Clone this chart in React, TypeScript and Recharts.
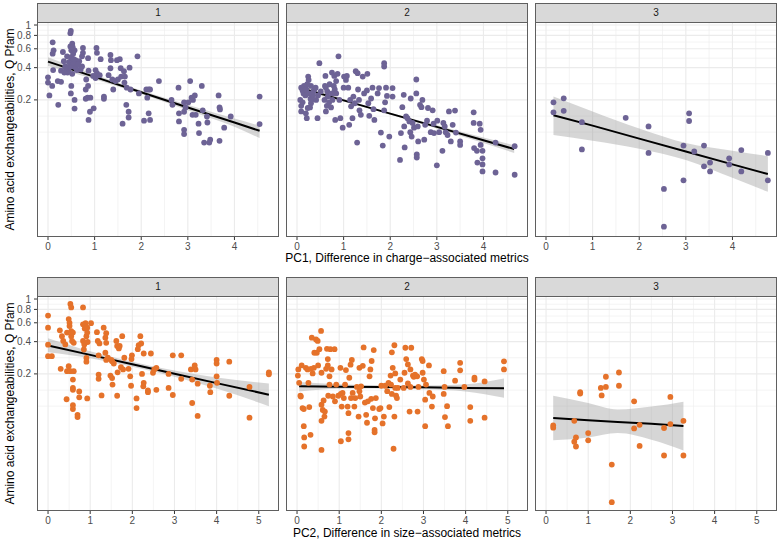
import React from 'react';
import { ComposedChart, Scatter, Line, Area, XAxis, YAxis, CartesianGrid } from 'recharts';

type Pt = [number, number];
// fit rows: [x, lower, fit, upper]
type FitRow = [number, number, number, number];

const clusters = ['1', '2', '3'];
const yMajor = [0.2, 0.4, 0.6, 0.8, 1];
const yMinor = [0.1, 0.141, 0.283, 0.49, 0.693, 0.894];
const yDomain = [0.0105, 1.067];

const pc1Major = [0, 1, 2, 3, 4];
const pc1Minor = [0.5, 1.5, 2.5, 3.5, 4.5];
const pc1Domain = [-0.236, 4.956];
const pc2Major = [0, 1, 2, 3, 4, 5];
const pc2Minor = [0.5, 1.5, 2.5, 3.5, 4.5];
const pc2Domain = [-0.262, 5.48];

const pc1Title = 'PC1, Difference in charge\u2212associated metrics';
const pc2Title = 'PC2, Difference in size\u2212associated metrics';
const yTitle = 'Amino acid exchangeabilities, Q Pfam';

// PC1 row (purple)
const pc1Cl1: Pt[] = [
  [0, 0.325], [0, 0.29], [0.03, 0.22], [0.09, 0.27], [0.11, 0.38], [0.1, 0.54], [0.12, 0.58], [0.1, 0.69],
  [0.22, 0.18], [0.21, 0.3], [0.28, 0.295], [0.32, 0.56], [0.34, 0.46], [0.28, 0.375], [0.37, 0.41], [0.41, 0.51],
  [0.44, 0.38], [0.48, 0.84], [0.49, 0.88], [0.48, 0.63], [0.5, 0.58], [0.52, 0.67], [0.54, 0.54], [0.49, 0.46],
  [0.48, 0.41], [0.52, 0.35], [0.55, 0.41], [0.59, 0.47], [0.57, 0.58], [0.5, 0.27], [0.49, 0.23], [0.57, 0.2],
  [0.57, 0.166], [0.62, 0.38], [0.67, 0.46], [0.73, 0.41], [0.73, 0.51], [0.75, 0.61], [0.75, 0.55], [0.7, 0.385],
  [0.86, 0.49], [0.87, 0.375], [0.82, 0.31], [0.81, 0.25], [0.86, 0.27], [0.85, 0.21], [0.81, 0.205], [0.91, 0.21],
  [0.9, 0.155], [0.87, 0.13], [0.98, 0.167], [1.02, 0.32], [1.02, 0.38], [1.05, 0.355], [1.04, 0.61], [1.05, 0.55],
  [1.13, 0.48], [1.11, 0.34], [0.97, 0.335], [1.2, 0.215], [1.2, 0.205], [1.34, 0.525], [1.35, 0.47], [1.34, 0.395],
  [1.3, 0.34], [1.38, 0.31], [1.4, 0.25], [1.45, 0.3], [1.48, 0.47], [1.54, 0.48], [1.5, 0.31], [1.56, 0.395],
  [1.57, 0.33], [1.63, 0.37], [1.65, 0.33], [1.64, 0.29], [1.6, 0.12], [1.68, 0.18], [1.73, 0.155], [1.73, 0.137],
  [1.69, 0.26], [1.75, 0.4], [1.77, 0.25], [1.92, 0.51], [1.95, 0.23], [2.06, 0.128], [2.11, 0.25], [2.13, 0.21],
  [2.16, 0.25], [2.19, 0.25], [2.16, 0.15], [2.19, 0.13], [2.38, 0.3], [2.65, 0.2], [2.67, 0.18], [2.8, 0.26],
  [2.81, 0.15], [2.81, 0.126], [2.92, 0.19], [2.92, 0.155], [2.92, 0.105], [2.92, 0.096], [2.95, 0.17], [3.01, 0.19],
  [3.05, 0.3], [3.08, 0.21], [3.11, 0.2], [3.15, 0.22], [3.1, 0.145], [3.17, 0.145], [3.23, 0.12], [3.24, 0.098],
  [3.3, 0.27], [3.32, 0.16], [3.35, 0.08], [3.41, 0.14], [3.42, 0.123], [3.46, 0.08], [3.48, 0.085], [3.66, 0.22],
  [3.68, 0.17], [3.69, 0.163], [3.68, 0.083], [3.78, 0.11], [3.92, 0.14], [4.54, 0.215], [4.54, 0.119],
  [0.45, 0.45], [0.5, 0.5], [0.55, 0.44], [0.6, 0.4], [0.42, 0.36], [0.38, 0.4], [0.53, 0.62], [0.55, 0.48],
  [0.65, 0.43], [0.35, 0.36],
];
const pc1Cl2: Pt[] = [
  [0.09, 0.26], [0.07, 0.2], [0.09, 0.176], [0.09, 0.156], [0.12, 0.245], [0.14, 0.23], [0.19, 0.15], [0.21, 0.135],
  [0.23, 0.168], [0.24, 0.33], [0.25, 0.307], [0.29, 0.205], [0.3, 0.186], [0.31, 0.2], [0.34, 0.22], [0.37, 0.25],
  [0.41, 0.2], [0.44, 0.135], [0.48, 0.44], [0.51, 0.24], [0.59, 0.2], [0.61, 0.335], [0.62, 0.26], [0.62, 0.156],
  [0.64, 0.176], [0.66, 0.215], [0.69, 0.19], [0.73, 0.17], [0.75, 0.36], [0.76, 0.2], [0.79, 0.27], [0.8, 0.335],
  [0.81, 0.25], [0.84, 0.23], [0.82, 0.13], [0.84, 0.3], [0.87, 0.35], [0.89, 0.51], [0.91, 0.2], [0.93, 0.135],
  [0.98, 0.11], [1.0, 0.26], [1.01, 0.33], [1.05, 0.307], [1.07, 0.335], [1.1, 0.26], [1.12, 0.117], [1.14, 0.2],
  [1.16, 0.174], [1.19, 0.135], [1.21, 0.215], [1.24, 0.186], [1.26, 0.37], [1.29, 0.08], [1.3, 0.355], [1.31, 0.25],
  [1.33, 0.2], [1.34, 0.16], [1.37, 0.145], [1.41, 0.33], [1.44, 0.23], [1.5, 0.245], [1.51, 0.35], [1.53, 0.186],
  [1.55, 0.142], [1.59, 0.206], [1.62, 0.26], [1.64, 0.164], [1.66, 0.13], [1.73, 0.23], [1.76, 0.258], [1.8, 0.099],
  [1.84, 0.075], [1.87, 0.44], [1.87, 0.41], [1.87, 0.16], [1.89, 0.19], [1.91, 0.26], [1.93, 0.218], [1.98, 0.091],
  [2.05, 0.258], [2.05, 0.215], [2.21, 0.055], [2.23, 0.098], [2.26, 0.171], [2.29, 0.223], [2.31, 0.072], [2.3, 0.113],
  [2.34, 0.14], [2.37, 0.135], [2.41, 0.126], [2.43, 0.1], [2.44, 0.206], [2.46, 0.091], [2.48, 0.122], [2.51, 0.11],
  [2.56, 0.31], [2.56, 0.23], [2.57, 0.062], [2.57, 0.058], [2.59, 0.113], [2.6, 0.082], [2.64, 0.18], [2.67, 0.171],
  [2.69, 0.2], [2.73, 0.085], [2.75, 0.117], [2.79, 0.128], [2.81, 0.168], [2.87, 0.1], [2.91, 0.16], [2.93, 0.12],
  [2.94, 0.098], [3.0, 0.049], [3.01, 0.128], [3.05, 0.1], [3.12, 0.067], [3.14, 0.122], [3.17, 0.113], [3.19, 0.1],
  [3.23, 0.094], [3.26, 0.156], [3.3, 0.082], [3.34, 0.117], [3.39, 0.159], [3.41, 0.099], [3.5, 0.082], [3.5, 0.076],
  [3.79, 0.153], [3.79, 0.122], [3.8, 0.071], [3.86, 0.067], [3.87, 0.052], [3.92, 0.12], [3.94, 0.105], [3.94, 0.076],
  [3.98, 0.067], [3.98, 0.057], [3.98, 0.05], [3.98, 0.043], [4.26, 0.042], [4.26, 0.08], [4.67, 0.074], [4.67, 0.04],
  [0.15, 0.27], [0.2, 0.25], [0.18, 0.22], [0.25, 0.23], [0.3, 0.27], [0.22, 0.28], [0.12, 0.19], [0.35, 0.24],
  [0.28, 0.17], [0.4, 0.26], [0.45, 0.22], [0.65, 0.24], [0.7, 0.28], [0.75, 0.23], [0.6, 0.27],
];
const pc1Cl3: Pt[] = [
  [0.16, 0.19], [0.16, 0.153], [0.38, 0.207], [0.38, 0.158], [0.77, 0.124], [0.77, 0.069], [1.71, 0.136], [2.2, 0.113],
  [2.2, 0.064], [2.53, 0.0295], [2.53, 0.0131], [2.95, 0.075], [2.95, 0.0355], [3.07, 0.15], [3.07, 0.127], [3.18, 0.066],
  [3.39, 0.075], [3.39, 0.048], [3.52, 0.052], [3.52, 0.043], [3.93, 0.057], [3.93, 0.05], [4.19, 0.068], [4.19, 0.043],
  [4.76, 0.064], [4.76, 0.0355],
];
const pc1Fit1: FitRow[] = [
  [0, 0.415, 0.455, 0.5], [1, 0.312, 0.328, 0.345], [2, 0.227, 0.236, 0.245],
  [3, 0.16, 0.17, 0.18], [4, 0.112, 0.123, 0.134], [4.54, 0.088, 0.103, 0.115],
];
const pc1Fit2: FitRow[] = [
  [0.16, 0.237, 0.252, 0.268], [1, 0.193, 0.198, 0.204], [2, 0.146, 0.149, 0.152],
  [3, 0.108, 0.112, 0.116], [4, 0.079, 0.084, 0.089], [4.66, 0.064, 0.0695, 0.0755],
];
const pc1Fit3: FitRow[] = [
  [0.16, 0.094, 0.144, 0.215], [1, 0.083, 0.115, 0.156], [2, 0.07, 0.087, 0.108],
  [3, 0.055, 0.066, 0.079], [4, 0.0375, 0.05, 0.067], [4.76, 0.0277, 0.0406, 0.0597],
];

// PC2 row (orange)
const pc2Cl1: Pt[] = [
  [0, 0.7], [0, 0.54], [0, 0.375], [0, 0.293], [0.09, 0.293], [0.28, 0.51], [0.3, 0.223], [0.33, 0.45],
  [0.36, 0.406], [0.41, 0.377], [0.45, 0.486], [0.44, 0.116], [0.45, 0.212], [0.49, 0.236], [0.49, 0.65], [0.51, 0.6],
  [0.53, 0.9], [0.55, 0.835], [0.51, 0.56], [0.55, 0.5], [0.55, 0.45], [0.57, 0.406], [0.53, 0.212], [0.59, 0.486],
  [0.61, 0.39], [0.59, 0.177], [0.59, 0.148], [0.59, 0.142], [0.59, 0.102], [0.59, 0.094], [0.61, 0.212], [0.7, 0.083],
  [0.7, 0.079], [0.74, 0.137], [0.74, 0.121], [0.83, 0.835], [0.83, 0.58], [0.83, 0.406], [0.85, 0.338], [0.86, 0.377],
  [0.87, 0.53], [0.89, 0.595], [0.91, 0.45], [0.91, 0.282], [0.91, 0.26], [0.93, 0.118], [0.94, 0.397], [0.93, 0.54],
  [0.93, 0.486], [1.02, 0.595], [1.16, 0.49], [1.18, 0.406], [1.22, 0.385], [1.2, 0.298], [1.2, 0.197], [1.2, 0.18],
  [1.27, 0.126], [1.32, 0.54], [1.36, 0.436], [1.38, 0.48], [1.38, 0.39], [1.36, 0.315], [1.38, 0.27], [1.42, 0.283],
  [1.48, 0.193], [1.5, 0.27], [1.52, 0.263], [1.52, 0.183], [1.53, 0.159], [1.56, 0.25], [1.62, 0.406], [1.64, 0.365],
  [1.64, 0.125], [1.65, 0.207], [1.68, 0.346], [1.7, 0.365], [1.73, 0.231], [1.76, 0.45], [1.78, 0.22], [1.81, 0.283],
  [1.91, 0.223], [1.95, 0.19], [1.97, 0.155], [1.99, 0.298], [1.98, 0.275], [2.1, 0.118], [2.1, 0.096], [2.13, 0.34],
  [2.15, 0.37], [2.19, 0.45], [2.21, 0.385], [2.23, 0.2], [2.26, 0.153], [2.27, 0.165], [2.27, 0.31], [2.37, 0.14],
  [2.37, 0.135], [2.44, 0.31], [2.49, 0.205], [2.52, 0.22], [2.57, 0.228], [2.57, 0.142], [2.86, 0.148], [2.86, 0.2],
  [2.96, 0.298], [2.96, 0.127], [3.16, 0.298], [3.16, 0.18], [3.39, 0.22], [3.42, 0.177], [3.42, 0.107], [3.48, 0.24],
  [3.5, 0.22], [3.55, 0.162], [3.55, 0.081], [3.84, 0.155], [3.85, 0.135], [4.0, 0.27], [4.0, 0.25], [4.0, 0.19],
  [4.01, 0.165], [4.3, 0.26], [4.3, 0.125], [4.78, 0.151], [4.78, 0.078], [5.24, 0.207], [5.24, 0.198],
];
const pc2Cl2: Pt[] = [
  [0.02, 0.193], [0.03, 0.22], [0.05, 0.165], [0.08, 0.125], [0.09, 0.123], [0.11, 0.24], [0.13, 0.096], [0.16, 0.094],
  [0.16, 0.065], [0.17, 0.051], [0.17, 0.042], [0.21, 0.228], [0.25, 0.22], [0.27, 0.165], [0.29, 0.098], [0.32, 0.054],
  [0.33, 0.223], [0.35, 0.436], [0.37, 0.202], [0.4, 0.228], [0.41, 0.315], [0.45, 0.42], [0.47, 0.315], [0.49, 0.406],
  [0.5, 0.24], [0.53, 0.34], [0.57, 0.504], [0.58, 0.205], [0.58, 0.103], [0.58, 0.039], [0.58, 0.073], [0.61, 0.092],
  [0.63, 0.113], [0.65, 0.08], [0.66, 0.089], [0.69, 0.223], [0.71, 0.343], [0.73, 0.275], [0.73, 0.24], [0.74, 0.125],
  [0.77, 0.19], [0.77, 0.159], [0.79, 0.34], [0.82, 0.22], [0.85, 0.123], [0.89, 0.34], [0.9, 0.111], [0.93, 0.159],
  [0.98, 0.125], [1.03, 0.228], [1.04, 0.13], [1.04, 0.047], [1.06, 0.099], [1.08, 0.133], [1.11, 0.119], [1.14, 0.159],
  [1.16, 0.217], [1.2, 0.099], [1.22, 0.086], [1.22, 0.056], [1.22, 0.049], [1.24, 0.184], [1.27, 0.244], [1.28, 0.119],
  [1.3, 0.27], [1.32, 0.133], [1.36, 0.099], [1.38, 0.119], [1.42, 0.151], [1.46, 0.08], [1.48, 0.228], [1.48, 0.138],
  [1.5, 0.123], [1.52, 0.153], [1.56, 0.238], [1.58, 0.353], [1.61, 0.108], [1.64, 0.083], [1.66, 0.07], [1.68, 0.111],
  [1.72, 0.19], [1.74, 0.22], [1.76, 0.117], [1.77, 0.264], [1.8, 0.096], [1.82, 0.334], [1.84, 0.06], [1.84, 0.057],
  [1.85, 0.077], [1.87, 0.119], [1.95, 0.094], [1.98, 0.096], [2.0, 0.155], [2.03, 0.069], [2.06, 0.08], [2.09, 0.155],
  [2.14, 0.138], [2.17, 0.165], [2.19, 0.098], [2.22, 0.193], [2.23, 0.159], [2.25, 0.13], [2.25, 0.318], [2.27, 0.228],
  [2.29, 0.04], [2.31, 0.08], [2.31, 0.37], [2.33, 0.202], [2.33, 0.148], [2.35, 0.125], [2.37, 0.119], [2.39, 0.148],
  [2.45, 0.177], [2.53, 0.148], [2.55, 0.205], [2.57, 0.351], [2.59, 0.275], [2.63, 0.245], [2.63, 0.163], [2.67, 0.089],
  [2.69, 0.22], [2.71, 0.351], [2.69, 0.151], [2.75, 0.193], [2.77, 0.188], [2.8, 0.197], [2.85, 0.19], [2.86, 0.089],
  [2.88, 0.151], [2.96, 0.275], [2.98, 0.264], [2.98, 0.205], [3.01, 0.177], [3.04, 0.065], [3.04, 0.115], [3.06, 0.159],
  [3.13, 0.24], [3.14, 0.133], [3.2, 0.099], [3.22, 0.123], [3.48, 0.212], [3.5, 0.151], [3.48, 0.13], [3.51, 0.079],
  [3.56, 0.1], [3.58, 0.065], [3.75, 0.173], [3.87, 0.254], [3.87, 0.216], [3.97, 0.151], [4.11, 0.098], [4.11, 0.073],
  [4.21, 0.184], [4.21, 0.177], [4.45, 0.17], [4.45, 0.078], [4.91, 0.262], [4.91, 0.22],
];
const pc2Cl3: Pt[] = [
  [0.17, 0.066], [0.17, 0.063], [0.67, 0.073], [0.67, 0.0465], [0.71, 0.051], [0.71, 0.042], [0.81, 0.135], [0.81, 0.131],
  [1.0, 0.056], [1.0, 0.048], [1.3, 0.148], [1.32, 0.126], [1.42, 0.188], [1.42, 0.151], [1.56, 0.0285], [1.56, 0.0127],
  [1.73, 0.206], [1.73, 0.155], [2.09, 0.111], [2.09, 0.062], [2.22, 0.067], [2.22, 0.0425], [2.8, 0.0625], [2.8, 0.0346],
  [2.95, 0.122], [2.95, 0.068], [3.26, 0.073], [3.26, 0.0346],
];
const pc2Fit1: FitRow[] = [
  [0, 0.318, 0.369, 0.43], [1, 0.28, 0.301, 0.325], [2, 0.233, 0.246, 0.26],
  [3, 0.188, 0.201, 0.215], [4, 0.146, 0.164, 0.185], [5.24, 0.1, 0.128, 0.163],
];
const pc2Fit2: FitRow[] = [
  [0.05, 0.137, 0.153, 0.168], [1, 0.145, 0.152, 0.16], [2, 0.146, 0.151, 0.156],
  [3, 0.144, 0.15, 0.156], [4, 0.137, 0.148, 0.16], [4.91, 0.12, 0.147, 0.181],
];
const pc2Fit3: FitRow[] = [
  [0.17, 0.048, 0.0777, 0.125], [1, 0.051, 0.074, 0.107], [1.7, 0.056, 0.0713, 0.093],
  [2.5, 0.0485, 0.0685, 0.099], [3.26, 0.0385, 0.0653, 0.11],
];

const PURPLE = '#6d6395';
const ORANGE = '#e5722a';
const FONT = '"Liberation Sans", Arial, Helvetica, sans-serif';

const colLeft = [37, 286, 535];
const rowTop = [22, 296];
const PANEL_W = 242;
const PANEL_H = 215;
const X_AXIS_H = 30;
const Y_AXIS_W = 37;
const TOP_PAD = 8; // room so the "1" tick label is not clipped

interface PanelProps {
  points: Pt[];
  fit: FitRow[];
  color: string;
  xDomain: number[];
  xMajor: number[];
  xMinor: number[];
  col: number;
  row: number;
}

function Panel({ points, fit, color, xDomain, xMajor, xMinor, col, row }: PanelProps) {
  const showY = col === 0;
  const left = showY ? colLeft[col] - Y_AXIS_W : colLeft[col];
  const width = showY ? PANEL_W + Y_AXIS_W : PANEL_W;
  const scatterData = points.map(([x, y]) => ({ x, y }));
  const fitData = fit.map(([x, lo, y, hi]) => ({ x, y, band: [lo, hi] }));

  return (
    <div style={{ position: 'absolute', left, top: rowTop[row] - TOP_PAD }}>
      <ComposedChart
        width={width}
        height={PANEL_H + X_AXIS_H + TOP_PAD}
        margin={{ top: TOP_PAD, right: 0, bottom: 0, left: 0 }}
      >
        <CartesianGrid horizontalValues={yMinor} verticalValues={xMinor} stroke="#ededed" strokeWidth={0.6} />
        <CartesianGrid horizontalValues={yMajor} verticalValues={xMajor} stroke="#ebebeb" strokeWidth={1.1} />
        <XAxis
          type="number"
          dataKey="x"
          domain={xDomain}
          allowDataOverflow
          ticks={xMajor}
          interval={0}
          height={X_AXIS_H}
          axisLine={false}
          tickSize={3}
          tickMargin={3}
          tickLine={{ stroke: '#333' }}
          tick={{ fill: '#4d4d4d', fontSize: 10, fontFamily: FONT }}
        />
        <YAxis
          type="number"
          dataKey="y"
          scale="log"
          domain={yDomain}
          allowDataOverflow
          ticks={yMajor}
          interval={0}
          hide={!showY}
          width={Y_AXIS_W}
          axisLine={false}
          tickSize={3}
          tickMargin={3}
          tickLine={{ stroke: '#333' }}
          tick={{ fill: '#4d4d4d', fontSize: 10, fontFamily: FONT }}
        />
        <Scatter
          data={scatterData}
          fill={color}
          isAnimationActive={false}
          shape={(p: any) => <circle cx={p.cx} cy={p.cy} r={2.9} fill={color} />}
        />
        <Area
          data={fitData}
          dataKey="band"
          type="monotone"
          stroke="none"
          fill="#999999"
          fillOpacity={0.4}
          isAnimationActive={false}
        />
        <Line
          data={fitData}
          dataKey="y"
          type="linear"
          stroke="#000"
          strokeWidth={2}
          dot={false}
          isAnimationActive={false}
        />
      </ComposedChart>
    </div>
  );
}

function Frame({ col, row }: { col: number; row: number }) {
  const top = rowTop[row];
  return (
    <>
      <div
        style={{
          position: 'absolute', left: colLeft[col], top: top - 19, width: PANEL_W, height: 20,
          boxSizing: 'border-box', background: '#d9d9d9', border: '1px solid #5f5f5f',
          fontFamily: FONT, fontSize: 10, color: '#1a1a1a', textAlign: 'center', lineHeight: '18px',
        }}
      >
        {clusters[col]}
      </div>
      <div
        style={{
          position: 'absolute', left: colLeft[col], top, width: PANEL_W, height: PANEL_H,
          boxSizing: 'border-box', border: '1px solid #5f5f5f', pointerEvents: 'none',
        }}
      />
    </>
  );
}

export default function App() {
  const rows = [
    { data: [pc1Cl1, pc1Cl2, pc1Cl3], fits: [pc1Fit1, pc1Fit2, pc1Fit3], color: PURPLE, xDomain: pc1Domain, xMajor: pc1Major, xMinor: pc1Minor },
    { data: [pc2Cl1, pc2Cl2, pc2Cl3], fits: [pc2Fit1, pc2Fit2, pc2Fit3], color: ORANGE, xDomain: pc2Domain, xMajor: pc2Major, xMinor: pc2Minor },
  ];
  const midX = (colLeft[0] + colLeft[2] + PANEL_W) / 2;

  return (
    <div style={{ position: 'absolute', left: 0, top: 0, width: 780, height: 542, background: '#fff', overflow: 'hidden' }}>
      {rows.map((r, ri) =>
        [0, 1, 2].map((ci) => (
          <Panel
            key={`${ri}-${ci}`}
            points={r.data[ci]}
            fit={r.fits[ci]}
            color={r.color}
            xDomain={r.xDomain}
            xMajor={r.xMajor}
            xMinor={r.xMinor}
            col={ci}
            row={ri}
          />
        ))
      )}
      {rows.map((_, ri) => [0, 1, 2].map((ci) => <Frame key={`f${ri}-${ci}`} col={ci} row={ri} />))}
      <svg width={780} height={542} style={{ position: 'absolute', left: 0, top: 0, pointerEvents: 'none' }}>
        <g fontFamily={FONT} fontSize={12} fill="#000">
          <text x={midX} y={262} textAnchor="middle">{pc1Title}</text>
          <text x={midX} y={537} textAnchor="middle">{pc2Title}</text>
          <text transform={`translate(14, ${rowTop[0] + PANEL_H / 2}) rotate(-90)`} textAnchor="middle">{yTitle}</text>
          <text transform={`translate(14, ${rowTop[1] + PANEL_H / 2}) rotate(-90)`} textAnchor="middle">{yTitle}</text>
        </g>
      </svg>
    </div>
  );
}
